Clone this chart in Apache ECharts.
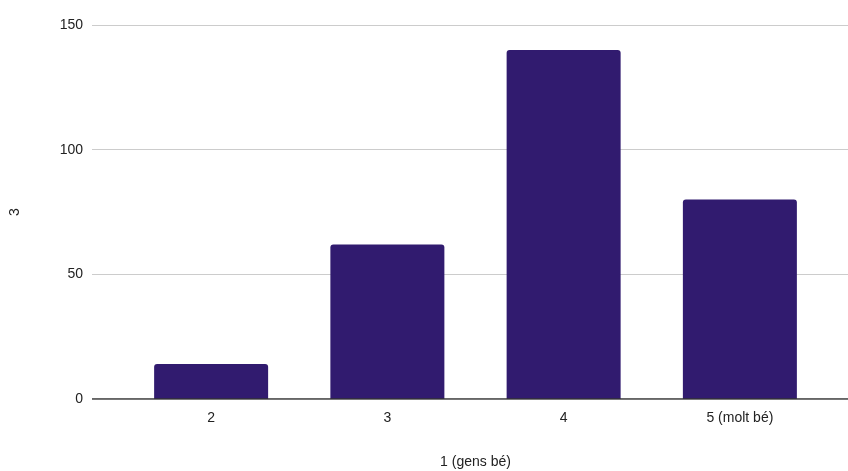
<!DOCTYPE html>
<html><head><meta charset="utf-8">
<script src="https://cdn.jsdelivr.net/npm/echarts@6/dist/echarts.min.js"></script>
<style>html,body{margin:0;padding:0;background:#fff}#c{width:848px;height:471px}</style>
</head><body><div id="c"></div>
<script>
const categories = ['2', '3', '4', '5 (molt bé)'];
const values = [14, 62, 140, 80];
const yTicks = [0, 50, 100, 150];
const xName = '1 (gens bé)';
const yName = '3';

const chart = echarts.init(document.getElementById('c'));
const font = 'Liberation Sans, Arial, sans-serif';
chart.setOption({
  animation: false,
  grid: [
    {left: 92, right: 0, top: 25, bottom: 72, containLabel: false, outerBoundsMode: 'none'},
    {left: 123, right: 20, top: 25, bottom: 72, containLabel: false, outerBoundsMode: 'none'}
  ],
  xAxis: [
    {gridIndex: 0, type: 'value', min: 0, max: 1, show: false},
    {gridIndex: 1, type: 'category', data: categories,
     axisLine: {show: false}, axisTick: {show: false},
     axisLabel: {color: '#222', fontFamily: font, fontSize: 14, margin: 12},
     name: xName, nameLocation: 'middle', nameGap: 56,
     nameTextStyle: {color: '#222', fontFamily: font, fontSize: 14}}
  ],
  yAxis: [
    {gridIndex: 0, type: 'value', min: yTicks[0], max: yTicks[yTicks.length-1], interval: 50,
     axisLine: {show: false}, axisTick: {show: false},
     axisLabel: {color: '#222', fontFamily: font, fontSize: 14, margin: 9},
     splitLine: {lineStyle: {color: '#cccccc', width: 1}},
     name: yName, nameLocation: 'middle', nameGap: 70, nameRotate: 90,
     nameTextStyle: {color: '#222', fontFamily: font, fontSize: 14}},
    {gridIndex: 1, type: 'value', min: yTicks[0], max: yTicks[yTicks.length-1], interval: 50, show: false}
  ],
  series: [
    {type: 'line', xAxisIndex: 0, yAxisIndex: 0, data: [[0, 0], [1, 0]], symbol: 'none',
     lineStyle: {color: '#333', width: 1.3}, z: 5, silent: true},
    {type: 'bar', xAxisIndex: 1, yAxisIndex: 1, data: values, barWidth: 114,
     itemStyle: {color: '#311b6f', borderRadius: [3, 3, 0, 0]}, z: 3}
  ]
});
</script></body></html>
